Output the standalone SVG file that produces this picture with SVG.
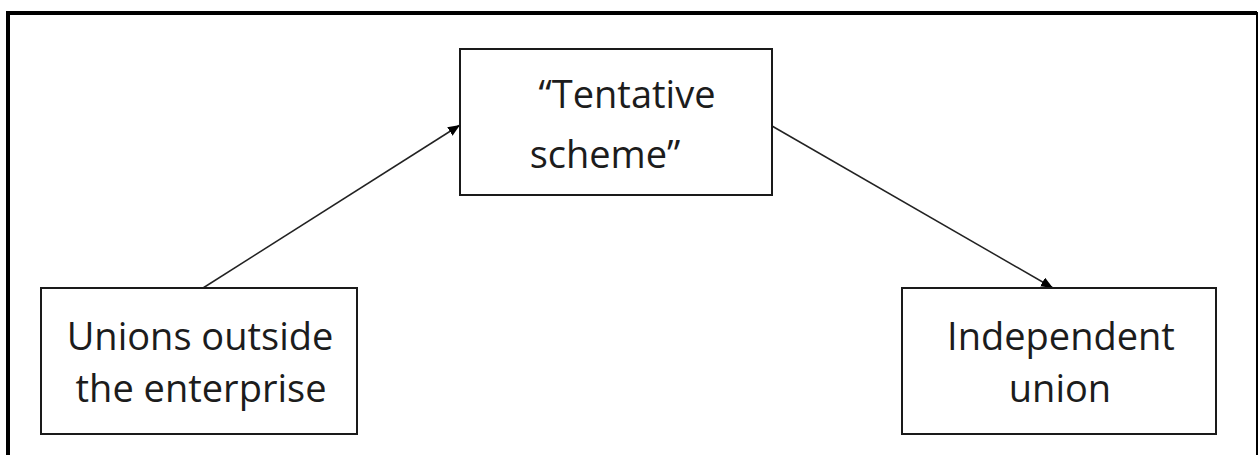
<svg xmlns="http://www.w3.org/2000/svg" width="1258" height="455" viewBox="0 0 1258 455">
  <style>
    .box { fill: #ffffff; stroke: #1a1a1a; stroke-width: 2; }
    .lbl { font-family: "Open Sans", "Liberation Sans", sans-serif; font-size: 38px; fill: #1c1c1c; text-anchor: middle; }
    .conn { stroke: #222222; stroke-width: 1.5; fill: none; }
  </style>
  <defs>
    <marker id="arrow" viewBox="0 0 12 10" refX="12" refY="5" markerWidth="12" markerHeight="10" markerUnits="userSpaceOnUse" orient="auto">
      <path d="M0,0 L12,5 L0,10 Z" fill="#000000"/>
    </marker>
  </defs>
  <rect x="0" y="0" width="1258" height="455" fill="#ffffff"/>
  <g id="frame">
    <path d="M8,455 V13 H1257" fill="none" stroke="#000000" stroke-width="4"/>
    <path d="M1257,12 V455" fill="none" stroke="#000000" stroke-width="2"/>
  </g>
  <g id="connectors">
    <line class="conn" x1="203" y1="288" x2="460" y2="125" marker-end="url(#arrow)"/>
    <line class="conn" x1="772" y1="126" x2="1053" y2="288" marker-end="url(#arrow)"/>
  </g>
  <g id="node-tentative">
    <rect class="box" x="460" y="49" width="312" height="146"/>
    <text class="lbl" x="627" y="108">“Tentative</text>
    <text class="lbl" x="605" y="168">scheme”</text>
  </g>
  <g id="node-unions">
    <rect class="box" x="41" y="288" width="316" height="146"/>
    <text class="lbl" x="200" y="350">Unions outside</text>
    <text class="lbl" x="201" y="402">the enterprise</text>
  </g>
  <g id="node-independent">
    <rect class="box" x="902" y="288" width="314" height="146"/>
    <text class="lbl" x="1061" y="350">Independent</text>
    <text class="lbl" x="1060" y="402">union</text>
  </g>
</svg>
